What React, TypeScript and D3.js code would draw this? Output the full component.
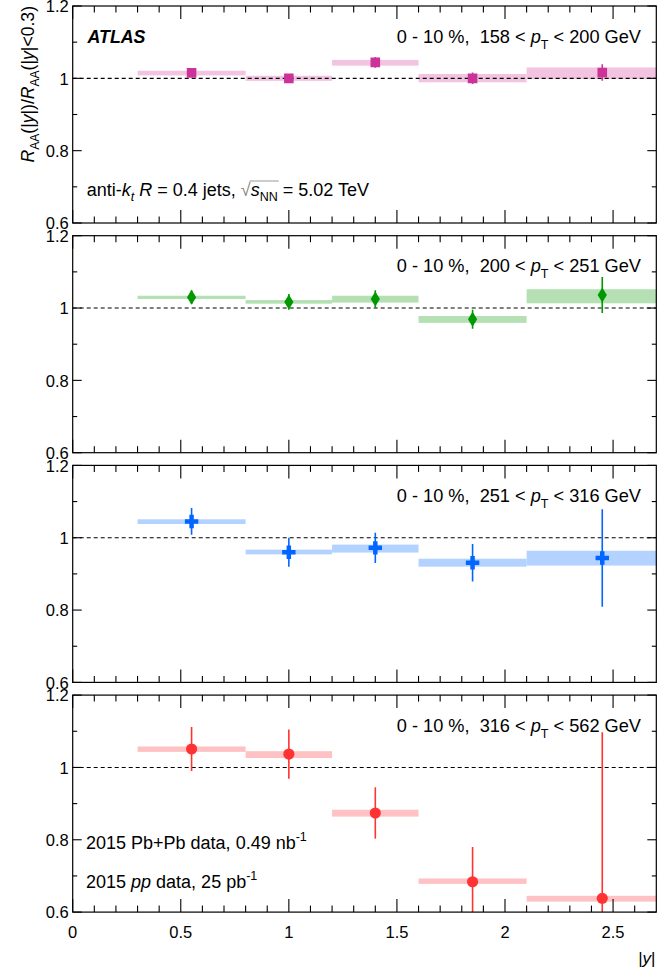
import React, { useRef, useLayoutEffect, useState } from 'react';
import * as d3 from 'd3';

// ---------------- data ----------------
const binLow = [0.3, 0.8, 1.2, 1.6, 2.1];
const binHigh = [0.8, 1.2, 1.6, 2.1, 2.7];
const binCenter = [0.55, 1.0, 1.4, 1.85, 2.45];

const ptLow = [158, 200, 251, 316];
const ptHigh = [200, 251, 316, 562];

// panel 1 : 158 < pT < 200
const val1 = [1.015, 1.0, 1.044, 1.0, 1.016];
const stat1 = [0.008, 0.007, 0.015, 0.016, 0.023];
const sysLo1 = [1.008, 0.993, 1.035, 0.989, 0.998];
const sysHi1 = [1.021, 1.007, 1.051, 1.012, 1.03];

// panel 2 : 200 < pT < 251
const val2 = [1.03, 1.017, 1.025, 0.969, 1.036];
const stat2 = [0.019, 0.022, 0.024, 0.026, 0.05];
const sysLo2 = [1.025, 1.012, 1.015, 0.959, 1.013];
const sysHi2 = [1.034, 1.022, 1.034, 0.978, 1.052];

// panel 3 : 251 < pT < 316
const val3 = [1.045, 0.96, 0.972, 0.931, 0.944];
const stat3 = [0.037, 0.04, 0.042, 0.052, 0.135];
const sysLo3 = [1.038, 0.954, 0.959, 0.92, 0.923];
const sysHi3 = [1.051, 0.967, 0.981, 0.942, 0.964];

// panel 4 : 316 < pT < 562
const val4 = [1.051, 1.037, 0.874, 0.684, 0.638];
const stat4 = [0.061, 0.068, 0.071, 0.096, 0.459];
const sysLo4 = [1.043, 1.026, 0.864, 0.678, 0.629];
const sysHi4 = [1.058, 1.045, 0.883, 0.693, 0.645];

const xMajorTicks = [0, 0.5, 1, 1.5, 2, 2.5];
const xTickLabels = ['0', '0.5', '1', '1.5', '2', '2.5'];
const yMajorTicks = [0.6, 0.8, 1.0, 1.2];
const yTickLabels = ['0.6', '0.8', '1', '1.2'];

const markerColors = ['#cc3399', '#009900', '#0066ff', '#ff3333'];
const boxColors = ['#f2c4e2', '#b4e0b4', '#b4d2ff', '#ffc2c4'];
const markerShapes = ['square', 'diamond', 'cross', 'circle'];

const panels = [
  { val: val1, stat: stat1, lo: sysLo1, hi: sysHi1 },
  { val: val2, stat: stat2, lo: sysLo2, hi: sysHi2 },
  { val: val3, stat: stat3, lo: sysLo3, hi: sysHi3 },
  { val: val4, stat: stat4, lo: sysLo4, hi: sysHi4 },
];

// ---------------- layout ----------------
const W = 664;
const H = 977;
const X0 = 72.7;
const X1 = 656.3;
const PANEL_TOP0 = 6;
const PANEL_PITCH = 229.7;
const PANEL_H = 217;
const FONT = "'Liberation Sans', Arial, Helvetica, sans-serif";

const x = d3.scaleLinear().domain([0, 2.7]).range([X0, X1]);

function markerPath(shape: string): string {
  if (shape === 'square') return d3.symbol(d3.symbolSquare, 92)()!;
  if (shape === 'cross') return d3.symbol(d3.symbolCross, 100)()!;
  if (shape === 'circle') return d3.symbol(d3.symbolCircle, 98)()!;
  const p = d3.path();
  p.moveTo(0, -7.5);
  p.lineTo(4.6, 0);
  p.lineTo(0, 7.5);
  p.lineTo(-4.6, 0);
  p.closePath();
  return p.toString();
}

function Panel({ idx }: { idx: number }) {
  const top = PANEL_TOP0 + idx * PANEL_PITCH;
  const bottom = top + PANEL_H;
  const y = d3.scaleLinear().domain([0.6, 1.2]).range([bottom, top]);
  const d = panels[idx];
  const mc = markerColors[idx];
  const bc = boxColors[idx];
  const clipId = `clip${idx}`;
  const xMinor = d3.range(0, 27).map((i) => i / 10).filter((v) => Math.abs(v * 2 - Math.round(v * 2)) > 1e-6);
  const yMinor = [0.7, 0.9, 1.1];
  const path = markerPath(markerShapes[idx]);
  const isLast = idx === 3;

  return (
    <g>
      <defs>
        <clipPath id={clipId}>
          <rect x={X0} y={top} width={X1 - X0} height={PANEL_H} />
        </clipPath>
      </defs>
      <g clipPath={`url(#${clipId})`}>
        {binLow.map((b, i) => (
          <rect
            key={'box' + i}
            x={x(b)}
            width={x(binHigh[i]) - x(b)}
            y={y(d.hi[i])}
            height={y(d.lo[i]) - y(d.hi[i])}
            fill={bc}
          />
        ))}
        <line x1={X0} x2={X1} y1={y(1)} y2={y(1)} stroke="#000" strokeWidth={1.1} strokeDasharray="4,3" />
        {binCenter.map((c, i) => (
          <line
            key={'err' + i}
            x1={x(c)}
            x2={x(c)}
            y1={y(d.val[i] + d.stat[i])}
            y2={y(d.val[i] - d.stat[i])}
            stroke={mc}
            strokeWidth={1.6}
          />
        ))}
        {binCenter.map((c, i) => (
          <path key={'m' + i} d={path} transform={`translate(${x(c)},${y(d.val[i])})`} fill={mc} />
        ))}
      </g>
      {/* frame */}
      <rect x={X0} y={top} width={X1 - X0} height={PANEL_H} fill="none" stroke="#000" strokeWidth={1.2} />
      {/* x ticks */}
      {xMajorTicks.map((t) => (
        <g key={'xt' + t}>
          <line x1={x(t)} x2={x(t)} y1={bottom} y2={bottom - 13} stroke="#000" strokeWidth={1.1} />
          <line x1={x(t)} x2={x(t)} y1={top} y2={top + 13} stroke="#000" strokeWidth={1.1} />
        </g>
      ))}
      {xMinor.map((t) => (
        <g key={'xm' + t}>
          <line x1={x(t)} x2={x(t)} y1={bottom} y2={bottom - 6.5} stroke="#000" strokeWidth={1.1} />
          <line x1={x(t)} x2={x(t)} y1={top} y2={top + 6.5} stroke="#000" strokeWidth={1.1} />
        </g>
      ))}
      {/* y ticks */}
      {yMajorTicks.map((t) => (
        <g key={'yt' + t}>
          <line x1={X0} x2={X0 + 9} y1={y(t)} y2={y(t)} stroke="#000" strokeWidth={1.1} />
          <line x1={X1} x2={X1 - 9} y1={y(t)} y2={y(t)} stroke="#000" strokeWidth={1.1} />
        </g>
      ))}
      {yMinor.map((t) => (
        <g key={'ym' + t}>
          <line x1={X0} x2={X0 + 4.5} y1={y(t)} y2={y(t)} stroke="#000" strokeWidth={1.1} />
          <line x1={X1} x2={X1 - 4.5} y1={y(t)} y2={y(t)} stroke="#000" strokeWidth={1.1} />
        </g>
      ))}
      {yMajorTicks.map((t, i) => (
        <text key={'yl' + t} x={X0 - 4} y={y(t) + 6.3} textAnchor="end" fontSize={16.5} fontFamily={FONT}>
          {yTickLabels[i]}
        </text>
      ))}
      {isLast &&
        xMajorTicks.map((t, i) => (
          <text key={'xl' + t} x={x(t)} y={bottom + 26} textAnchor="middle" fontSize={16.5} fontFamily={FONT}>
            {xTickLabels[i]}
          </text>
        ))}
      {/* panel label */}
      <text x={641} y={top + 36.7} textAnchor="end" fontSize={18.2} fontFamily={FONT} style={{ whiteSpace: 'pre' }}>
        <tspan>{`0 - 10 %,  ${ptLow[idx]} < `}</tspan>
        <tspan fontStyle="italic">p</tspan>
        <tspan fontSize={12.5} dy={6}>T</tspan>
        <tspan dy={-6}>{` < ${ptHigh[idx]} GeV`}</tspan>
      </text>
    </g>
  );
}

export default function App() {
  const sRef = useRef<SVGTSpanElement>(null);
  const nnRef = useRef<SVGTSpanElement>(null);
  const [over, setOver] = useState<{ x1: number; x2: number; y: number } | null>(null);

  useLayoutEffect(() => {
    try {
      const a = sRef.current!.getBBox();
      const b = nnRef.current!.getBBox();
      setOver({ x1: a.x - 1, x2: b.x + b.width + 1, y: a.y + 1 });
    } catch (e) {
      setOver(null);
    }
  }, []);

  const p1Top = PANEL_TOP0;
  const p4Top = PANEL_TOP0 + 3 * PANEL_PITCH;

  return (
    <div style={{ position: 'absolute', left: 0, top: 0, width: W, height: H, background: '#fff' }}>
      <svg width={W} height={H} viewBox={`0 0 ${W} ${H}`} style={{ display: 'block' }}>
        <rect x={0} y={0} width={W} height={H} fill="#fff" />
        {[0, 1, 2, 3].map((i) => (
          <Panel key={i} idx={i} />
        ))}
        {/* y title */}
        <text transform={`translate(34,6) rotate(-90)`} textAnchor="end" fontSize={17.6} fontFamily={FONT}>
          <tspan fontStyle="italic">R</tspan>
          <tspan fontSize={12} dy={5}>AA</tspan>
          <tspan dy={-5}>(|</tspan>
          <tspan fontStyle="italic">y</tspan>
          <tspan>|)/</tspan>
          <tspan fontStyle="italic">R</tspan>
          <tspan fontSize={12} dy={5}>AA</tspan>
          <tspan dy={-5}>(|</tspan>
          <tspan fontStyle="italic">y</tspan>
          <tspan>|&lt;0.3)</tspan>
        </text>
        {/* x title */}
        <text x={655.5} y={964} textAnchor="end" fontSize={17} fontFamily={FONT}>
          <tspan>|</tspan>
          <tspan fontStyle="italic">y</tspan>
          <tspan>|</tspan>
        </text>
        {/* ATLAS */}
        <text x={87.5} y={p1Top + 36.7} fontSize={17.8} fontWeight="bold" fontStyle="italic" fontFamily={FONT}>
          ATLAS
        </text>
        {/* anti-kt */}
        <text x={86.7} y={p1Top + 190} fontSize={18} fontFamily={FONT} style={{ whiteSpace: 'pre' }}>
          <tspan>anti-</tspan>
          <tspan fontStyle="italic">k</tspan>
          <tspan fontStyle="italic" fontSize={12.5} dy={5}>t</tspan>
          <tspan dy={-5}> </tspan>
          <tspan fontStyle="italic">R</tspan>
          <tspan>{' = 0.4 jets, '}</tspan>
          <tspan fill="#888">√</tspan>
          <tspan ref={sRef} fontStyle="italic">s</tspan>
          <tspan ref={nnRef} fontSize={12.5} dy={5}>NN</tspan>
          <tspan dy={-5}>{' = 5.02 TeV'}</tspan>
        </text>
        {over && <line x1={over.x1} x2={over.x2} y1={over.y} y2={over.y} stroke="#999" strokeWidth={1} />}
        {/* data labels */}
        <text x={86} y={p4Top + 154.3} fontSize={18} fontFamily={FONT} style={{ whiteSpace: 'pre' }}>
          <tspan>2015 Pb+Pb data, 0.49 nb</tspan>
          <tspan fontSize={12.5} dy={-8}>-1</tspan>
        </text>
        <text x={86} y={p4Top + 193.3} fontSize={18} fontFamily={FONT} style={{ whiteSpace: 'pre' }}>
          <tspan>2015 </tspan>
          <tspan fontStyle="italic">pp</tspan>
          <tspan>{' data, 25 pb'}</tspan>
          <tspan fontSize={12.5} dy={-8}>-1</tspan>
        </text>
      </svg>
    </div>
  );
}
